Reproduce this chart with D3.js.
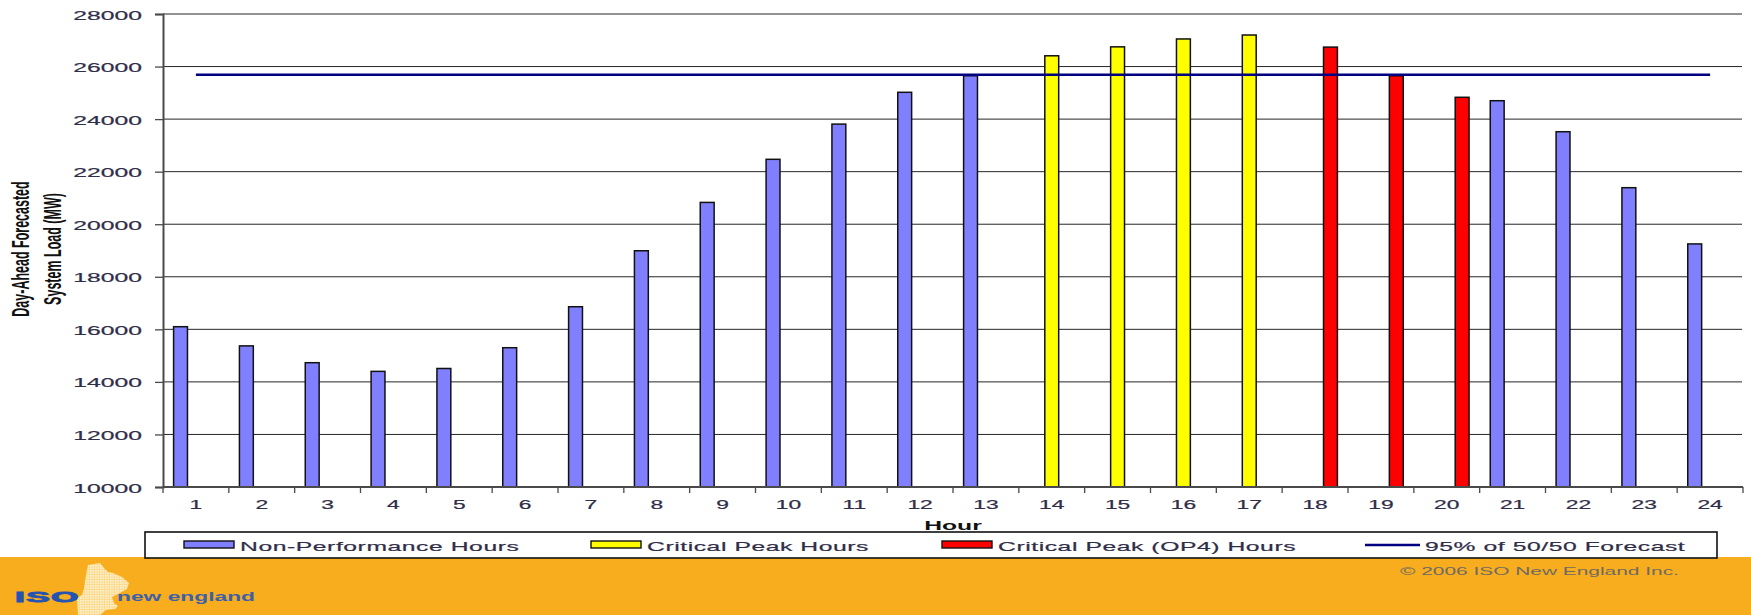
<!DOCTYPE html>
<html>
<head>
<meta charset="utf-8">
<script src="https://cdn.jsdelivr.net/npm/d3@7/dist/d3.min.js"></script>
<style>
  html, body { margin: 0; padding: 0; background: #fff; }
  svg { display: block; font-family: "Liberation Sans", Arial, sans-serif; }
</style>
</head>
<body>
<svg id="chart" width="1751" height="615"></svg>
<script>
// Hourly day-ahead forecasted system load (MW)
const hours = ["1","2","3","4","5","6","7","8","9","10","11","12",
               "13","14","15","16","17","18","19","20","21","22","23","24"];

const seriesNames = ["Non-Performance Hours", "Critical Peak Hours", "Critical Peak (OP4) Hours"];

const nonPerformance = [16100, 15370, 14730, 14400, 14510, 15300, 16860, 18990, 20830, 22470, 23810, 25020,
                        25650, null, null, null, null, null, null, null, 24700, 23520, 21390, 19250];
const criticalPeak   = [null, null, null, null, null, null, null, null, null, null, null, null,
                        null, 26410, 26750, 27050, 27200, null, null, null, null, null, null, null];
const criticalPeakOP4 = [null, null, null, null, null, null, null, null, null, null, null, null,
                        null, null, null, null, null, 26740, 25650, 24830, null, null, null, null];

const forecastLabel = "95% of 50/50 Forecast";
const forecast95 = 25690;

const yTicks = [10000, 12000, 14000, 16000, 18000, 20000, 22000, 24000, 26000, 28000];

// ---- layout / styles ----
const SX = 1.9;                 // horizontal text stretch
const textColor = "#2f2d48";
const fills = ["#8080ff", "#ffff00", "#ff0000"];
const lineColor = "#000080";

const svg = d3.select("#chart");
const plot = { left: 163, right: 1743, top: 14, bottom: 487 };

const x = d3.scaleBand().domain(hours).range([plot.left, plot.right]).paddingInner(0).paddingOuter(0);
const slot = d3.scaleBand().domain([0, 1, 2]).range([0, x.bandwidth()]).paddingInner(0).paddingOuter(0.64);
const y = d3.scaleLinear().domain([10000, 28000]).range([plot.bottom, plot.top]);

// stretched text helper
function stext(g, str, tx, ty, opts = {}) {
  const sx = opts.sx || SX;
  const t = g.append("text")
    .attr("transform", `translate(${tx},${ty}) scale(${sx},1)` + (opts.rotate ? ` rotate(${opts.rotate})` : ""))
    .attr("text-anchor", opts.anchor || "start")
    .attr("font-size", opts.size || 13)
    .attr("font-weight", opts.weight || "normal")
    .attr("fill", opts.fill || textColor)
    .text(str);
  if (opts.spacing) t.attr("letter-spacing", opts.spacing);
  if (opts.stroke) t.attr("stroke", opts.fill || textColor).attr("stroke-width", opts.stroke);
  return t;
}

// footer band
svg.append("rect").attr("x", 0).attr("y", 557).attr("width", 1751).attr("height", 58).attr("fill", "#f8ad1e");

// gridlines
svg.append("g").selectAll("line").data(yTicks.filter(d => d > 10000)).join("line")
  .attr("x1", plot.left).attr("x2", plot.right - 1)
  .attr("y1", d => y(d)).attr("y2", d => y(d))
  .attr("stroke", "#262626").attr("stroke-width", 1);

// y axis
const yAxis = svg.append("g").attr("transform", `translate(${plot.left},0)`)
  .call(d3.axisLeft(y).tickValues(yTicks).tickSize(8).tickFormat(d3.format("d")));
yAxis.select(".domain").attr("stroke", "#4a4a4a").attr("stroke-width", 2);
yAxis.selectAll(".tick line").attr("stroke", "#4a4a4a").attr("stroke-width", 1.3);
yAxis.selectAll(".tick text")
  .attr("x", null).attr("dy", null)
  .attr("transform", `translate(-21,5) scale(${SX},1)`)
  .attr("font-size", 13).attr("fill", textColor)
  .attr("stroke", textColor).attr("stroke-width", 0.2)
  .attr("font-family", "'Liberation Sans', Arial, sans-serif");

// bars: each series occupies its own slot within the hour band
const seriesData = [nonPerformance, criticalPeak, criticalPeakOP4];
seriesData.forEach((vals, si) => {
  const rows = hours.map((h, i) => ({ h, v: vals[i] })).filter(d => d.v != null);
  svg.append("g").selectAll("rect").data(rows).join("rect")
    .attr("x", d => x(d.h) + slot(si) + 0.75)
    .attr("width", slot.bandwidth() - 1.5)
    .attr("y", d => y(d.v))
    .attr("height", d => y(10000) - y(d.v))
    .attr("fill", fills[si])
    .attr("stroke", "#111").attr("stroke-width", 1.5);
});

// 95% forecast line across hour centers
svg.append("line")
  .attr("x1", x(hours[0]) + x.bandwidth() / 2)
  .attr("x2", x(hours[hours.length - 1]) + x.bandwidth() / 2)
  .attr("y1", y(forecast95)).attr("y2", y(forecast95))
  .attr("stroke", lineColor).attr("stroke-width", 2.6);

// x axis line and boundary ticks
const xg = svg.append("g");
xg.append("line").attr("x1", plot.left).attr("x2", plot.right)
  .attr("y1", plot.bottom).attr("y2", plot.bottom)
  .attr("stroke", "#4a4a4a").attr("stroke-width", 2);
const bounds = hours.map(h => x(h)).concat([plot.right]);
xg.selectAll("line.tk").data(bounds).join("line").attr("class", "tk")
  .attr("x1", d => d).attr("x2", d => d)
  .attr("y1", plot.bottom).attr("y2", plot.bottom + 6)
  .attr("stroke", "#4a4a4a").attr("stroke-width", 1.3);
hours.forEach(h => stext(xg, h, x(h) + x.bandwidth() / 2, 509, { anchor: "middle", size: 12, stroke: 0.2 }));

// axis titles
stext(svg, "Hour", (plot.left + plot.right) / 2, 530, { anchor: "middle", size: 13, weight: "bold", fill: "#111" });
stext(svg, "Day-Ahead Forecasted", 29, 249, { anchor: "middle", size: 12.5, weight: "bold", fill: "#111", rotate: -90 });
stext(svg, "System Load (MW)", 61, 249, { anchor: "middle", size: 12.5, weight: "bold", fill: "#111", rotate: -90 });

// legend
const lg = svg.append("g");
lg.append("rect").attr("x", 145).attr("y", 532).attr("width", 1572).attr("height", 26)
  .attr("fill", "#fff").attr("stroke", "#111").attr("stroke-width", 1.6);
const legendX = [184, 591, 942, 1365];
seriesNames.forEach((name, i) => {
  lg.append("rect").attr("x", legendX[i]).attr("y", 541).attr("width", 50).attr("height", 7)
    .attr("fill", fills[i]).attr("stroke", "#111").attr("stroke-width", 1.4);
  stext(lg, name, legendX[i] + 56, 550.5, { size: 13, spacing: 0.3, stroke: 0.2 });
});
lg.append("line").attr("x1", legendX[3]).attr("x2", legendX[3] + 55)
  .attr("y1", 545).attr("y2", 545).attr("stroke", lineColor).attr("stroke-width", 2.6);
stext(lg, forecastLabel, legendX[3] + 60, 550.5, { size: 13, spacing: 0.3, stroke: 0.2 });

// footer: copyright and logo
stext(svg, "\u00a9 2006 ISO New England Inc.", 1400, 575, { size: 11, fill: "#6e6a62" });

const defs = svg.append("defs");
const pat = defs.append("pattern").attr("id", "dots").attr("width", 2.5).attr("height", 2.5)
  .attr("patternUnits", "userSpaceOnUse");
pat.append("rect").attr("width", 2.5).attr("height", 2.5).attr("fill", "#fcd98a");
pat.append("rect").attr("width", 1.5).attr("height", 1.5).attr("fill", "#fff6dc");

const mapShape = [[88,565],[100,563],[104,568],[108,572],[113,573],[122,577],[129,583],[127,589],
                  [118,594],[112,597],[114,603],[118,606],[115,609],[106,610],[100,615],[78,615],
                  [77,598],[82,595],[84,588],[86,575]];
svg.append("path").attr("d", d3.line()(mapShape) + "Z").attr("fill", "url(#dots)");

stext(svg, "ISO", 15, 602, { size: 15, weight: "bold", fill: "#2453b3", sx: 2.35, spacing: 0.6, stroke: 0.9 });
stext(svg, "new england", 117, 601, { size: 12, weight: "bold", fill: "#3d60aa" });
</script>
</body>
</html>
